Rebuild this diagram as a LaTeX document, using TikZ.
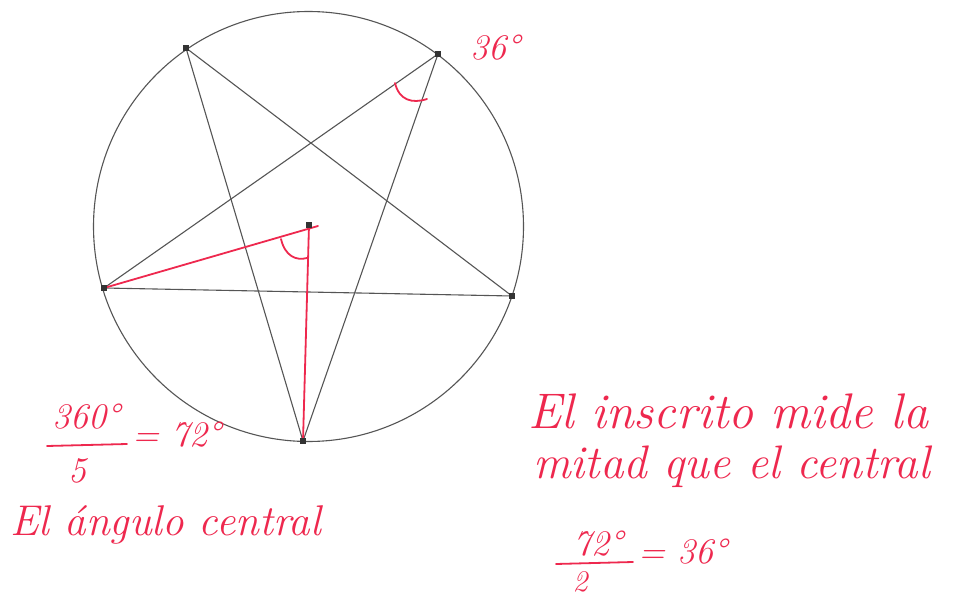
\documentclass[tikz,border=0pt]{standalone}
\usepackage{fontspec}
\definecolor{inkred}{RGB}{238,40,78}
\definecolor{pencil}{RGB}{85,85,85}
\begin{document}
\begin{tikzpicture}[x=1pt,y=-1pt,
  edge/.style={draw=pencil, line width=1.1pt},
  vtx/.style={rectangle, fill=black!80, inner sep=0pt, minimum size=5.5pt},
  ink/.style={draw=inkred, line width=1.8pt, line cap=round},
  hand/.style={text=inkred, inner sep=0pt, font=\itshape\fontsize{#1}{#1}\selectfont},
  hand/.default=40]
\useasboundingbox (0,0) rectangle (954,599);
\fill[white] (0,0) rectangle (954,599);
% circle and pentagram
\coordinate (O) at (308.5,226.5);
\draw[edge] (O) circle (215pt);
\coordinate (A) at (186,48);
\coordinate (B) at (438,54);
\coordinate (C) at (512,296);
\coordinate (D) at (303,441);
\coordinate (E) at (104,288);
\coordinate (M) at (309,225);
\coordinate (R) at (318,226);
\draw[edge] (A) -- (D);
\draw[edge] (A) -- (C);
\draw[edge] (B) -- (E);
\draw[edge] (B) -- (D);
\draw[edge] (E) -- (C);
% red radii
\draw[ink] (E) -- (R);
\draw[ink] (M) -- (D);
% angle marks
\draw[ink] (281,239) .. controls (285,256) and (296,261) .. (307,258);
\draw[ink] (395,83) .. controls (399,100) and (412,104) .. (427,99);
% vertex dots
\foreach \p in {A,B,C,D,E,M} \node[vtx] (dot\p) at (\p) {};
% labels
\node[hand=36, anchor=base west] (t36) at (470,60) {36°};
\node[hand=36, anchor=base] (n360) at (86,428) {360°};
\draw[ink] (47,446) -- (127,444);
\node[hand=36, anchor=base] (d5) at (77,482) {5};
\node[hand=36, anchor=base west] (e72) at (132,446) {= 72°};
\node[hand=43, anchor=base west] (tcentral) at (10,535) {El ángulo central};
\node[hand=50, anchor=base west] (tins1) at (528,428) {El inscrito mide la};
\node[hand=47, anchor=base west] (tins2) at (533,478) {mitad que el central};
\node[hand=36, anchor=base] (n72) at (598,555) {72°};
\draw[ink] (556,564) -- (633,562);
\node[hand=30, anchor=base] (d2) at (580,591) {2};
\node[hand=36, anchor=base west] (e36) at (638,563) {= 36°};
\end{tikzpicture}
\end{document}
